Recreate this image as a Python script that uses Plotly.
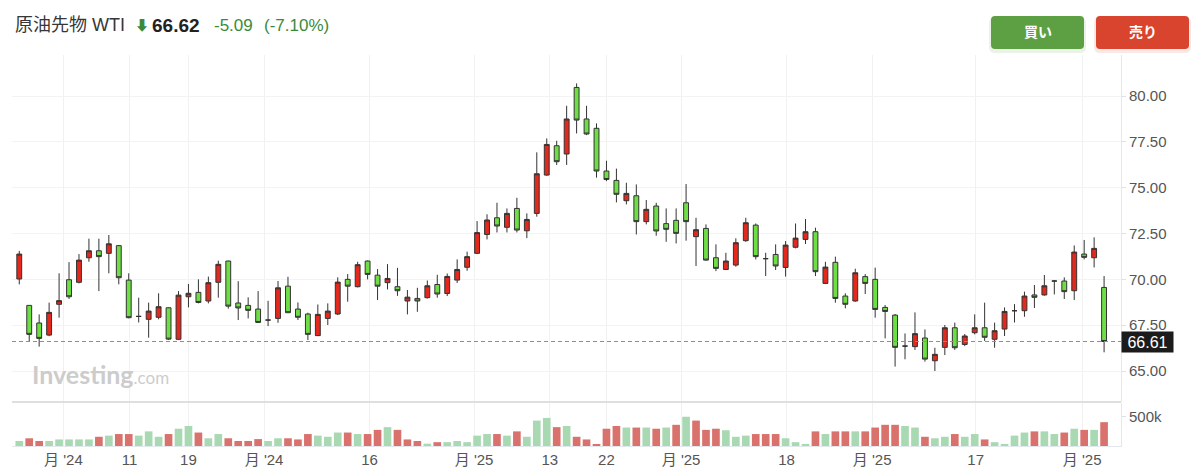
import plotly.graph_objects as go

# WTI crude futures, daily candles
OPEN = [70.02, 68.58, 67.62, 66.96, 68.64, 69.98, 69.84, 71.18, 71.56, 71.42,
        71.84, 69.96, 67.98, 67.82, 67.93, 68.45, 66.73, 69.05, 69.29, 68.82,
        69.84, 71.00, 68.71, 68.58, 68.38, 67.78, 67.87, 69.63, 68.38, 68.11,
        66.93, 67.87, 68.11, 70.00, 69.60, 71.00, 70.23, 69.82, 69.60, 68.82,
        68.96, 69.00, 69.72, 69.23, 69.96, 70.66, 71.42, 72.45, 73.36, 72.84,
        73.87, 72.65, 73.60, 75.69, 77.29, 76.84, 80.47, 78.75, 78.24, 75.91,
        75.40, 74.29, 74.56, 73.15, 74.00, 73.04, 73.22, 74.18, 72.33, 72.78,
        71.18, 70.54, 70.78, 72.11, 72.96, 71.13, 71.36, 70.65, 71.75, 72.18,
        72.60, 69.78, 70.93, 69.09, 68.82, 70.15, 70.00, 68.47, 68.05, 66.36,
        66.33, 66.80, 65.56, 66.29, 67.36, 66.45, 67.09, 67.36, 66.73, 67.29,
        68.29, 68.29, 69.15, 69.15, 69.91, 69.91, 69.38, 71.38, 71.18, 69.56]
HIGH = [71.55, 68.58, 68.09, 68.73, 70.33, 70.94, 71.38, 72.22, 72.22, 72.42,
        71.87, 70.33, 69.00, 68.73, 69.24, 68.47, 69.36, 69.75, 70.00, 70.15,
        71.02, 71.02, 69.90, 69.02, 69.36, 68.83, 69.91, 70.14, 68.74, 68.18,
        68.63, 68.69, 70.11, 70.29, 70.96, 71.03, 70.56, 70.83, 70.63, 69.42,
        69.54, 69.94, 70.25, 70.32, 71.09, 71.51, 73.18, 73.55, 74.18, 73.87,
        74.45, 73.60, 76.93, 77.69, 77.56, 79.47, 80.69, 79.47, 78.51, 76.47,
        76.04, 75.27, 75.18, 74.33, 74.18, 73.87, 73.87, 75.20, 73.36, 73.00,
        71.91, 71.45, 72.24, 73.36, 73.05, 71.45, 71.91, 72.09, 73.05, 73.29,
        72.82, 70.96, 71.24, 69.24, 70.58, 70.29, 70.64, 68.60, 68.11, 67.05,
        68.20, 67.27, 66.27, 67.51, 67.64, 67.02, 68.09, 68.73, 67.64, 68.47,
        68.65, 69.33, 69.69, 70.24, 69.96, 70.11, 71.85, 72.15, 72.29, 70.18]
LOW = [69.73, 66.60, 66.33, 66.90, 67.91, 68.93, 69.78, 70.96, 69.36, 70.33,
       69.73, 67.87, 67.65, 66.82, 67.82, 66.69, 66.69, 68.47, 68.69, 68.69,
       69.00, 68.40, 67.78, 67.87, 67.65, 67.45, 67.63, 68.18, 67.78, 66.69,
       66.91, 67.51, 68.05, 68.78, 69.56, 70.00, 68.87, 69.45, 69.10, 68.09,
       68.23, 68.96, 69.00, 69.09, 69.80, 70.47, 71.38, 72.18, 72.56, 72.56,
       72.56, 72.25, 73.42, 75.65, 76.24, 76.24, 77.96, 77.87, 75.55, 75.36,
       74.20, 74.09, 72.45, 73.00, 72.38, 72.05, 71.96, 72.11, 70.73, 71.02,
       70.45, 70.51, 70.69, 72.05, 71.09, 70.18, 70.51, 70.15, 71.69, 71.93,
       70.18, 69.75, 68.73, 68.42, 68.78, 69.20, 67.91, 66.78, 65.24, 65.64,
       66.15, 65.51, 65.00, 65.87, 66.15, 66.36, 67.00, 66.64, 66.27, 66.91,
       67.65, 67.96, 68.44, 69.11, 69.18, 68.93, 68.87, 71.09, 70.65, 66.02]
CLOSE = [71.38, 67.00, 66.78, 68.20, 68.84, 69.05, 71.05, 71.56, 71.24, 71.94,
         70.09, 67.91, 67.98, 68.27, 68.51, 66.74, 69.14, 69.24, 68.74, 69.82,
         70.82, 68.54, 68.44, 68.31, 67.65, 67.78, 69.54, 68.18, 67.93, 67.00,
         68.09, 68.27, 69.85, 69.63, 70.80, 70.27, 69.63, 70.05, 69.38, 69.03,
         68.82, 69.65, 69.20, 70.16, 70.54, 71.24, 72.55, 73.24, 72.91, 73.60,
         72.69, 73.27, 75.76, 77.36, 76.42, 78.75, 78.69, 77.93, 75.91, 75.45,
         74.64, 74.69, 73.15, 73.82, 72.64, 72.73, 72.51, 73.15, 72.71, 71.05,
         70.60, 71.00, 72.00, 73.09, 71.24, 71.13, 70.73, 71.87, 72.25, 72.60,
         70.42, 70.67, 68.96, 68.64, 70.36, 69.78, 68.36, 68.25, 66.29, 66.36,
         67.04, 65.65, 65.91, 67.36, 66.27, 66.91, 67.36, 66.84, 67.20, 68.25,
         68.29, 69.09, 69.02, 69.65, 69.91, 69.33, 71.49, 71.20, 71.69, 66.61]

# volume in thousands, and whether each volume bar is drawn green or red
VOLUME = [86, 133, 86, 86, 113, 113, 113, 113, 159, 179,
          206, 206, 179, 252, 159, 206, 298, 345, 232, 133,
          206, 133, 86, 86, 119, 86, 133, 133, 113, 206,
          179, 159, 232, 232, 206, 206, 278, 325, 278, 113,
          86, 40, 66, 66, 86, 66, 179, 206, 206, 179,
          252, 159, 438, 484, 325, 345, 159, 113, 20, 298,
          345, 318, 318, 318, 298, 318, 365, 504, 438, 278,
          298, 272, 159, 179, 206, 206, 206, 133, 66, 20,
          252, 206, 252, 252, 252, 252, 318, 365, 365, 345,
          318, 159, 133, 159, 206, 159, 206, 113, 66, 20,
          179, 232, 252, 252, 206, 232, 298, 278, 278, 411]
VOLUME_SIDE = list("GRRGGGGGRG" "RRGGGRGGRG" "GRRRRGGRRR" "GGGRGRRGRR"
                   "RGRGGGGGRG" "RGGGRGRRRR" "RGRGRGRGRR" "RGGGRRRGGG"
                   "RGRRGRRRRG" "GRGGRGGRGG" "GGRGGRGRGR")

TICK_POS = [4.44, 11.09, 17.0, 24.6, 35.2, 45.7, 53.3, 59.0, 66.5, 77.1, 85.7, 96.1, 106.8]
TICK_TEXT = ["月 '24", "11", "19", "月 '24", "16", "月 '25", "13", "22",
             "月 '25", "18", "月 '25", "17", "月 '25"]
PRICE_TICKS = [65, 67.5, 70, 72.5, 75, 77.5, 80]
LAST_PRICE = 66.61

FONT = "Liberation Sans, Noto Sans CJK JP, sans-serif"
GREEN_TXT = "#3a8a3c"

# the page body has an 8px margin, so the figure is drawn 8px smaller
OFF = 8
W, H = 1200 - OFF, 474 - OFF
# plot area in screen pixels, to place the page furniture
L, R, T, B = 12, 1121, 55, 446


def px(x):
    return (x - L) / (R - L)


def py(y):
    return (B - y) / (B - T)


def rounded_rect(x0, y0, x1, y1, r=4):
    # pixel box -> rounded path in paper coords
    rx, ry = r / (R - L), r / (B - T)
    a, b, c, d = px(x0), py(y1), px(x1), py(y0)
    return (f"M{a+rx},{b} L{c-rx},{b} Q{c},{b} {c},{b+ry} L{c},{d-ry} "
            f"Q{c},{d} {c-rx},{d} L{a+rx},{d} Q{a},{d} {a},{d-ry} "
            f"L{a},{b+ry} Q{a},{b} {a+rx},{b} Z")


x = list(range(len(CLOSE)))

fig = go.Figure()
fig.add_trace(go.Candlestick(
    x=x, open=OPEN, high=HIGH, low=LOW, close=CLOSE,
    increasing=dict(fillcolor="#e3281d", line=dict(color="#333333", width=1)),
    decreasing=dict(fillcolor="#6ddf45", line=dict(color="#333333", width=1)),
    showlegend=False, hoverinfo="skip", yaxis="y"))
fig.add_trace(go.Bar(
    x=x, y=VOLUME,
    marker=dict(color=["#a9d9b2" if s == "G" else "#d9726d" for s in VOLUME_SIDE],
                line=dict(width=0)),
    showlegend=False, hoverinfo="skip", yaxis="y2"))

fig.update_layout(
    width=W, height=H,
    margin=dict(l=L - OFF, r=1200 - R, t=T - OFF, b=474 - B),
    paper_bgcolor="white", plot_bgcolor="white",
    font=dict(family=FONT, size=15, color="#555555"),
    bargap=0.23,
    xaxis=dict(range=[-0.73, 110.7], anchor="y2", rangeslider=dict(visible=False),
               tickmode="array", tickvals=TICK_POS, ticktext=TICK_TEXT,
               showgrid=True, gridcolor="#f1f1f1", zeroline=False,
               showline=True, linecolor="#e3e8ef", ticks="",
               tickfont=dict(size=15, color="#555555")),
    yaxis=dict(domain=[py(402), 1], range=[63.31, 82.24], side="right",
               tickmode="array", tickvals=PRICE_TICKS, tickformat=".2f",
               showgrid=True, gridcolor="#f3f3f3", zeroline=False,
               showline=True, linecolor="#e3e8ef", ticks="outside",
               ticklen=4, tickcolor="#dde2ea",
               tickfont=dict(size=15, color="#555555")),
    yaxis2=dict(domain=[0, py(403)], range=[0, 741], side="right",
                tickmode="array", tickvals=[500], ticktext=["500k"],
                showgrid=False, zeroline=False,
                showline=True, linecolor="#e3e8ef", ticks="outside",
                ticklen=4, tickcolor="#dde2ea",
                tickfont=dict(size=15, color="#555555")),
)

shapes = [
    # pane separator
    dict(type="line", xref="paper", yref="paper", x0=0, x1=1, y0=py(402), y1=py(402),
         line=dict(color="#d4d4d4", width=1.5)),
    # last price
    dict(type="line", xref="paper", yref="y", x0=0, x1=1, y0=LAST_PRICE, y1=LAST_PRICE,
         line=dict(color="#d47272", width=1, dash="4px,3px")),
    # soft glow under the buttons
    dict(type="path", xref="paper", yref="paper", path=rounded_rect(989, 17, 1086, 53, 6),
         fillcolor="rgba(93,160,67,0.12)", line=dict(width=0)),
    dict(type="path", xref="paper", yref="paper", path=rounded_rect(1094, 17, 1191, 53, 6),
         fillcolor="rgba(217,68,47,0.12)", line=dict(width=0)),
    # buttons
    dict(type="path", xref="paper", yref="paper", path=rounded_rect(991, 16, 1084, 49),
         fillcolor="#5da043", line=dict(width=0)),
    dict(type="path", xref="paper", yref="paper", path=rounded_rect(1096, 16, 1189, 49),
         fillcolor="#d9442f", line=dict(width=0)),
]
fig.update_layout(shapes=shapes)

ann = [
    dict(text="原油先物 WTI", x=px(13), y=py(25), font=dict(size=18, color="#363636")),
    dict(text="⬇", x=px(133), y=py(25), font=dict(size=14, color=GREEN_TXT)),
    dict(text="<b>66.62</b>", x=px(150), y=py(25), font=dict(size=19, color="#222222")),
    dict(text="-5.09", x=px(212), y=py(25), font=dict(size=17, color=GREEN_TXT)),
    dict(text="(-7.10%)", x=px(262), y=py(25), font=dict(size=17, color=GREEN_TXT)),
    dict(text="<b>買い</b>", x=px(1037.5), y=py(32), xanchor="center",
         font=dict(size=14, color="white")),
    dict(text="<b>売り</b>", x=px(1142.5), y=py(32), xanchor="center",
         font=dict(size=14, color="white")),
    dict(text="<b>Investing</b><span style='font-size:17px'>.com</span>",
         x=px(30), y=py(374), font=dict(family="Lato, " + FONT, size=25, color="#cccccc")),
]
for a in ann:
    a.setdefault("xanchor", "left")
    fig.add_annotation(xref="paper", yref="paper", yanchor="middle", showarrow=False, **a)

fig.add_annotation(xref="paper", yref="y", x=1, y=LAST_PRICE, xanchor="left", yanchor="middle",
                   text="66.61", showarrow=False, bgcolor="#1b1b1b", borderpad=2,
                   width=47, height=16, align="center",
                   font=dict(size=16, color="white"))

fig.write_html("out.html")
